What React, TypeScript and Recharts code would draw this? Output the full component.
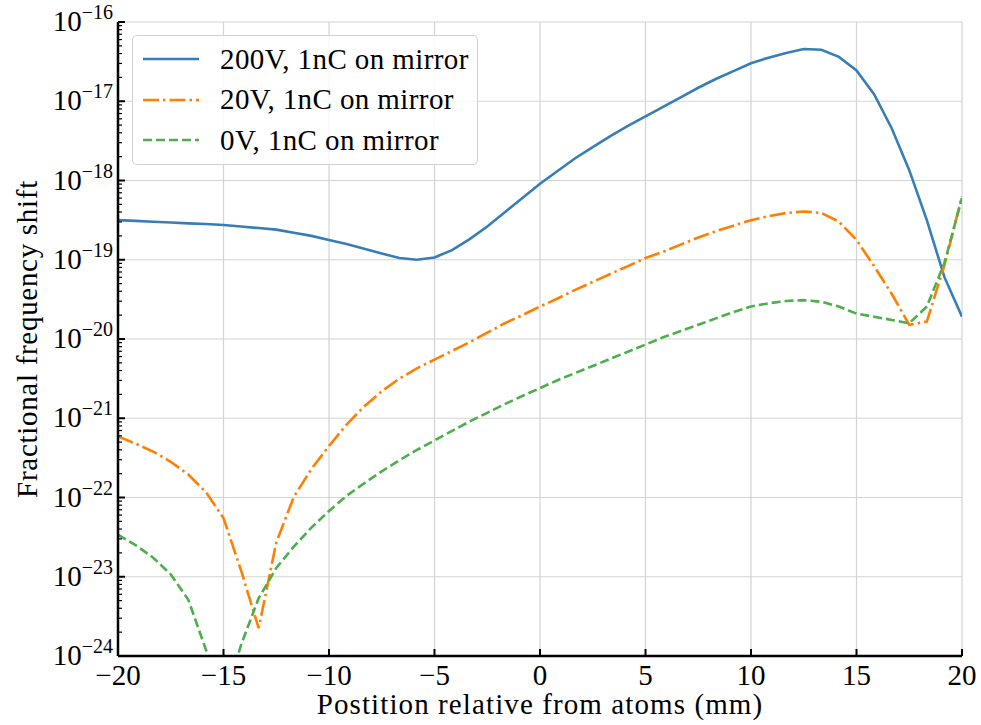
import React from 'react';
import { LineChart, Line, XAxis, YAxis, CartesianGrid, Legend } from 'recharts';

// positions along the axis (mm), 49 samples from -20 to 20
const positions = [
  -20, -19.167, -18.333, -17.5, -16.667, -15.833, -15, -14.167, -13.333, -12.5,
  -11.667, -10.833, -10, -9.167, -8.333, -7.5, -6.667, -5.833, -5, -4.167,
  -3.333, -2.5, -1.667, -0.833, 0, 0.833, 1.667, 2.5, 3.333, 4.167,
  5, 5.833, 6.667, 7.5, 8.333, 9.167, 10, 10.833, 11.667, 12.5,
  13.333, 14.167, 15, 15.833, 16.667, 17.5, 18.333, 19.167, 20,
];

const shift200V = [
  3.16e-19, 3.09e-19, 3.02e-19, 2.95e-19, 2.88e-19, 2.82e-19, 2.75e-19, 2.63e-19, 2.51e-19, 2.4e-19,
  2.19e-19, 2.0e-19, 1.78e-19, 1.58e-19, 1.38e-19, 1.2e-19, 1.05e-19, 1.0e-19, 1.07e-19, 1.32e-19,
  1.82e-19, 2.63e-19, 3.98e-19, 6.03e-19, 9.12e-19, 1.32e-18, 1.91e-18, 2.63e-18, 3.63e-18, 4.9e-18,
  6.46e-18, 8.51e-18, 1.12e-17, 1.48e-17, 1.91e-17, 2.4e-17, 3.02e-17, 3.55e-17, 4.07e-17, 4.57e-17,
  4.47e-17, 3.63e-17, 2.45e-17, 1.23e-17, 4.57e-18, 1.35e-18, 3.16e-19, 6.03e-20, 1.91e-20,
];

const shift20V = [
  5.89e-22, 4.79e-22, 3.8e-22, 2.82e-22, 1.95e-22, 1.17e-22, 5.5e-23, 1.2e-23, 2.24e-24, 2.69e-23,
  1.02e-22, 2.29e-22, 4.47e-22, 8.32e-22, 1.41e-21, 2.19e-21, 3.16e-21, 4.27e-21, 5.5e-21, 7.08e-21,
  9.12e-21, 1.2e-20, 1.58e-20, 2.0e-20, 2.57e-20, 3.24e-20, 4.17e-20, 5.25e-20, 6.61e-20, 8.32e-20,
  1.05e-19, 1.26e-19, 1.55e-19, 1.91e-19, 2.29e-19, 2.69e-19, 3.16e-19, 3.55e-19, 3.89e-19, 4.07e-19,
  3.89e-19, 3.02e-19, 1.78e-19, 8.32e-20, 3.72e-20, 1.51e-20, 1.66e-20, 8.51e-20, 6.31e-19,
];

const shift0V = [
  3.39e-23, 2.51e-23, 1.74e-23, 1.07e-23, 5.13e-24, 1.2e-24, 2.51e-25, 1.38e-24, 5.37e-24, 1.29e-23,
  2.4e-23, 4.17e-23, 6.76e-23, 1.05e-22, 1.51e-22, 2.14e-22, 2.95e-22, 3.98e-22, 5.25e-22, 6.92e-22,
  9.12e-22, 1.17e-21, 1.51e-21, 1.91e-21, 2.4e-21, 3.02e-21, 3.72e-21, 4.57e-21, 5.62e-21, 6.92e-21,
  8.51e-21, 1.05e-20, 1.26e-20, 1.51e-20, 1.82e-20, 2.19e-20, 2.57e-20, 2.82e-20, 3.02e-20, 3.09e-20,
  2.95e-20, 2.57e-20, 2.09e-20, 1.91e-20, 1.74e-20, 1.58e-20, 2.57e-20, 9.12e-20, 6.03e-19,
];

const xTicks = [-20, -15, -10, -5, 0, 5, 10, 15, 20];
const decades = [1e-24, 1e-23, 1e-22, 1e-21, 1e-20, 1e-19, 1e-18, 1e-17, 1e-16];

const series = [
  { key: 'v200', name: '200V, 1nC on mirror', color: '#377eb8', dash: undefined as string | undefined },
  { key: 'v20', name: '20V, 1nC on mirror', color: '#ff7f00', dash: '16 4 2.5 4' },
  { key: 'v0', name: '0V, 1nC on mirror', color: '#4daf4a', dash: '9 4' },
];

const data = positions.map((x, i) => ({
  x,
  v200: shift200V[i],
  v20: shift20V[i],
  v0: shift0V[i],
}));

// major + minor log ticks
const yTicks: number[] = [];
for (let e = -24; e <= -17; e++) {
  for (let m = 1; m <= 9; m++) yTicks.push(Number(`${m}e${e}`));
}
yTicks.push(1e-16);

const FONT = "'Liberation Serif', 'DejaVu Serif', serif";
const FS = 29;
const MINUS = '\u2212';

const isMajor = (v: number) => {
  const l = Math.log10(v);
  return Math.abs(l - Math.round(l)) < 1e-6;
};

const LeftTick = (props: any) => {
  const { x, y, payload } = props;
  const v = payload.value;
  const major = isMajor(v);
  const e = Math.round(Math.log10(v));
  return (
    <g>
      <line x1={x} x2={x + (major ? 7 : 4)} y1={y} y2={y} stroke="#000" strokeWidth={major ? 2 : 1.2} />
      {major && (
        <text x={x - 5} y={y + 9} textAnchor="end" fontFamily={FONT} fontSize={FS} fill="#000">
          10
          <tspan dy={-12} fontSize={20}>{MINUS + -e}</tspan>
        </text>
      )}
    </g>
  );
};

const RightTick = (props: any) => {
  const { x, y, payload } = props;
  const major = isMajor(payload.value);
  return <line x1={x} x2={x - (major ? 7 : 4)} y1={y} y2={y} stroke="#000" strokeWidth={major ? 2 : 1.2} />;
};

const BottomTick = (props: any) => {
  const { x, y, payload } = props;
  const v = payload.value;
  const label = v < 0 ? MINUS + -v : String(v);
  return (
    <g>
      <line x1={x} x2={x} y1={y} y2={y - 7} stroke="#000" strokeWidth={2} />
      <text x={x} y={y + 29} textAnchor="middle" fontFamily={FONT} fontSize={FS} fill="#000">
        {label}
      </text>
    </g>
  );
};

const TopTick = (props: any) => {
  const { x, y } = props;
  return <line x1={x} x2={x} y1={y} y2={y + 7} stroke="#000" strokeWidth={2} />;
};

const LegendBox = () => (
  <div
    style={{
      boxSizing: 'border-box',
      width: 346,
      height: 130,
      border: '1.5px solid #d2d2d2',
      borderRadius: 5,
      background: 'rgba(255,255,255,0.85)',
      paddingTop: 3,
    }}
  >
    {series.map((s) => (
      <div key={s.key} style={{ display: 'flex', alignItems: 'center', height: 40.5, paddingLeft: 9 }}>
        <svg width={58} height={10} style={{ marginRight: 20 }}>
          <line x1={1} x2={57} y1={5} y2={5} stroke={s.color} strokeWidth={2.6} strokeDasharray={s.dash} />
        </svg>
        <span
          style={{ fontFamily: FONT, fontSize: FS, letterSpacing: 0.4, color: '#000', whiteSpace: 'nowrap' }}
        >
          {s.name}
        </span>
      </div>
    ))}
  </div>
);

export default function App() {
  return (
    <div style={{ position: 'absolute', left: 0, top: 0, background: '#fff' }}>
      <LineChart width={981} height={725} data={data} margin={{ top: 22, right: 19, bottom: 0, left: 0 }}>
        <CartesianGrid stroke="#d4d4d4" strokeWidth={1.2} verticalValues={xTicks} horizontalValues={decades} />
        <XAxis
          dataKey="x"
          type="number"
          domain={[-20, 20]}
          ticks={xTicks}
          allowDataOverflow
          interval={0}
          height={69}
          tickSize={0}
          tickMargin={0}
          tick={BottomTick}
          axisLine={{ stroke: '#000', strokeWidth: 2.5 }}
          label={{
            content: (p: any) => (
              <text
                x={p.viewBox.x + p.viewBox.width / 2}
                y={714}
                textAnchor="middle"
                fontFamily={FONT}
                fontSize={FS}
                letterSpacing={1.1}
                fill="#000"
              >
                Postition relative from atoms (mm)
              </text>
            ),
          }}
        />
        <XAxis
          xAxisId="top"
          orientation="top"
          type="number"
          domain={[-20, 20]}
          ticks={xTicks}
          allowDataOverflow
          interval={0}
          height={0}
          tickSize={0}
          tickMargin={0}
          tick={TopTick}
          axisLine={{ stroke: '#000', strokeWidth: 2.5 }}
        />
        <YAxis
          type="number"
          scale="log"
          domain={[1e-24, 1e-16]}
          ticks={yTicks}
          allowDataOverflow
          interval={0}
          width={118}
          tickSize={0}
          tickMargin={0}
          tick={LeftTick}
          axisLine={{ stroke: '#000', strokeWidth: 2.5 }}
          label={{
            content: (p: any) => {
              const cy = p.viewBox.y + p.viewBox.height / 2;
              return (
                <text
                  x={37}
                  y={cy}
                  transform={`rotate(-90, 37, ${cy})`}
                  textAnchor="middle"
                  fontFamily={FONT}
                  fontSize={FS}
                  letterSpacing={0.7}
                  fill="#000"
                >
                  Fractional frequency shift
                </text>
              );
            },
          }}
        />
        <YAxis
          yAxisId="right"
          orientation="right"
          type="number"
          scale="log"
          domain={[1e-24, 1e-16]}
          ticks={yTicks}
          allowDataOverflow
          interval={0}
          width={0}
          tickSize={0}
          tickMargin={0}
          tick={RightTick}
          axisLine={{ stroke: '#000', strokeWidth: 2.5 }}
        />
        {series.map((s) => (
          <Line
            key={s.key}
            type="linear"
            dataKey={s.key}
            name={s.name}
            stroke={s.color}
            strokeWidth={2.6}
            strokeDasharray={s.dash}
            dot={false}
            activeDot={false}
            isAnimationActive={false}
          />
        ))}
        <Legend
          layout="vertical"
          align="center"
          verticalAlign="middle"
          wrapperStyle={{ left: 132, top: 35, width: 346, height: 130 }}
          content={() => <LegendBox />}
        />
      </LineChart>
    </div>
  );
}
